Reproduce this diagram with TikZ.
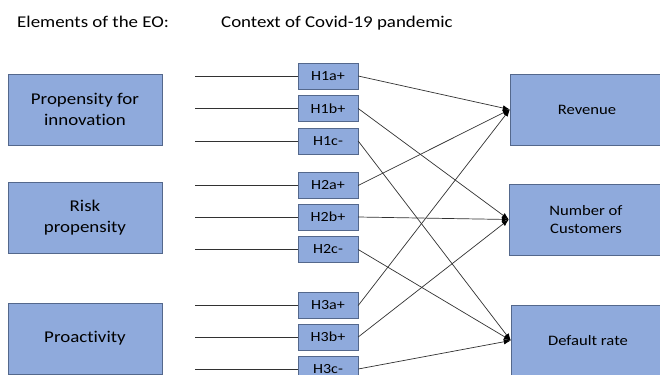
\documentclass[tikz,border=0pt]{standalone}
\usepackage{fontspec}
\setmainfont{Carlito}[FakeStretch=1.15,Ligatures={NoCommon}]
\usetikzlibrary{arrows.meta}

\definecolor{boxblue}{RGB}{143,170,220}
\definecolor{boxline}{RGB}{84,104,140}
\definecolor{wiregray}{RGB}{50,50,50}

\begin{document}
\begin{tikzpicture}[x=1bp,y=-1bp,
  factor/.style={draw=boxline,fill=boxblue,minimum width=154bp,minimum height=71bp,
    inner sep=0pt,align=center,font=\fontsize{16.5}{21}\selectfont},
  hyp/.style={draw=boxline,fill=boxblue,minimum width=60bp,minimum height=26bp,
    inner sep=0pt,font=\fontsize{14}{16}\selectfont},
  outcome/.style={draw=boxline,fill=boxblue,minimum width=154bp,minimum height=71bp,
    inner sep=0pt,align=center,font=\fontsize{14.5}{19}\selectfont},
  wire/.style={draw=wiregray,line width=0.7bp},
  link/.style={wire,-{Latex[length=7bp,width=5.5bp,black]}}]

\useasboundingbox[fill=white] (0,0) rectangle (660,374);
\clip (0,0) rectangle (660,374);

% headings
\node[anchor=base west,inner sep=0pt,font=\fontsize{16.5}{20}\selectfont] (head1) at (17,27) {Elements of the EO:};
\node[anchor=base west,inner sep=0pt,font=\fontsize{16.5}{20}\selectfont] (head2) at (221,27) {Context of Covid-19 pandemic};

% elements of the EO
\node[factor] (inno)  at (85,109.5) {Propensity for\\innovation};
\node[factor] (risk)  at (85,218)   {Risk\\propensity};
\node[factor] (proac) at (85,338.5) {Proactivity};

% hypotheses
\node[hyp] (h1a) at (328,76)    {H1a+};
\node[hyp] (h1b) at (328,108.5) {H1b+};
\node[hyp] (h1c) at (328,141)   {H1c-};

\node[hyp] (h2a) at (328,185.5) {H2a+};
\node[hyp] (h2b) at (328,217)   {H2b+};
\node[hyp] (h2c) at (328,249.5) {H2c-};

\node[hyp] (h3a) at (328,305.5) {H3a+};
\node[hyp] (h3b) at (328,337)   {H3b+};
\node[hyp] (h3c) at (328,369)   {H3c-};

% outcomes
\node[outcome] (rev)  at (587,109.5) {Revenue};
\node[outcome] (cust) at (586,219.5) {Number of\\Customers};
\node[outcome] (dflt) at (588,340.5) {Default rate};

% loose ends on the left
\foreach \h in {h1a,h1b,h1c,h2a,h2b,h2c,h3a,h3b,h3c}
  \coordinate (s\h) at (195,0 |- \h.west);
\foreach \h in {h1a,h1b,h1c,h2a,h2b,h2c,h3a,h3b,h3c}
  \draw[wire] (s\h) -- (\h.west);

% links to the outcomes
\draw[link] (h1a.east) -- (rev.west);
\draw[link] (h2a.east) -- (rev.west);
\draw[link] (h3a.east) -- (rev.west);

\draw[link] (h1b.east) -- (cust.west);
\draw[link] (h2b.east) -- (cust.west);
\draw[link] (h3b.east) -- (cust.west);

\draw[link] (h1c.east) -- (dflt.west);
\draw[link] (h2c.east) -- (dflt.west);
\draw[link] (h3c.east) -- (dflt.west);
\end{tikzpicture}
\end{document}
